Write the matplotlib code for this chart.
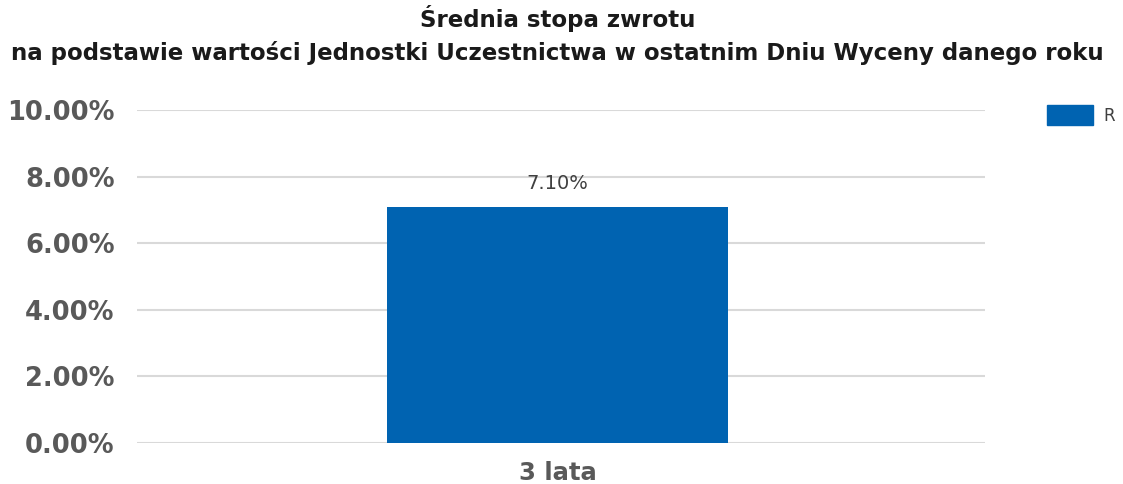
import matplotlib
matplotlib.use("Agg")
import matplotlib.pyplot as plt
from matplotlib.patches import Rectangle

# Average return, single horizon
categories = ["3 lata"]
values = [7.10]
series_name = "R"
yticks = [0, 2, 4, 6, 8, 10]

bar_color = "#0063B1"
label_color = "#595959"

fig = plt.figure(figsize=(11.23, 4.84), dpi=100)
ax = fig.add_axes([0.122, 0.0847, 0.755, 0.688])

x = list(range(len(categories)))
ax.bar(x, values, width=0.402, color=bar_color, zorder=3)

for xi, v in zip(x, values):
    ax.annotate(f"{v:.2f}%", (xi, v), xytext=(0, 10), textcoords="offset points",
                ha="center", va="bottom", fontsize=14, color="#404040")

ax.set_xlim(-0.496, len(categories) - 0.496)
ax.set_ylim(0, 10)
ax.set_yticks(yticks)
ax.set_yticklabels([f"{t:.2f}%" for t in yticks], fontsize=18.5, fontweight="bold",
                   color=label_color)
ax.set_xticks(x)
ax.set_xticklabels(categories, fontsize=17.5, fontweight="bold", color=label_color)
ax.tick_params(axis="both", length=0)
ax.tick_params(axis="y", pad=16)
ax.tick_params(axis="x", pad=13)

ax.grid(axis="y", color="#D9D9D9", linewidth=1.5, zorder=0)
for s in ax.spines.values():
    s.set_visible(False)

# Legend box on the right
fig.patches.append(Rectangle((1047 / 1123, 1 - 125 / 484), 46 / 1123, 20 / 484,
                             transform=fig.transFigure, color=bar_color))
fig.text(1103 / 1123, 1 - 116 / 484, series_name, fontsize=12, color="#404040",
         va="center", ha="left")

fig.text(0.4965, 1 - 19 / 484, "Średnia stopa zwrotu", ha="center", va="center",
         fontsize=16.5, fontweight="bold", color="#1a1a1a")
fig.text(0.4965, 1 - 53 / 484,
         "na podstawie wartości Jednostki Uczestnictwa w ostatnim Dniu Wyceny danego roku",
         ha="center", va="center", fontsize=16.5, fontweight="bold", color="#1a1a1a")

fig.savefig("out.png", dpi=100)
